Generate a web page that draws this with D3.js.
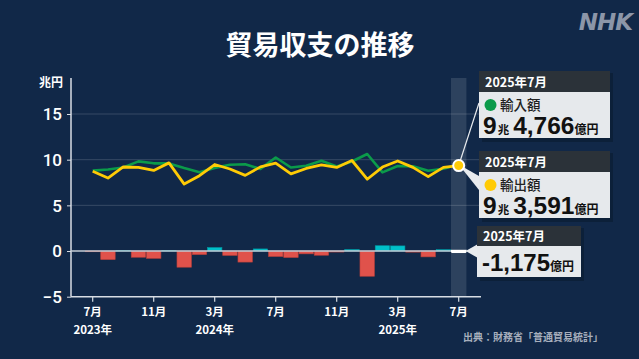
<!DOCTYPE html>
<html><head><meta charset="utf-8">
<script src="https://cdn.jsdelivr.net/npm/d3@7"></script>
<style>body{margin:0;background:#112848;}svg{display:block;}</style>
</head><body><svg id="c" width="639" height="359"></svg>
<script>
const months = ["2023-07","2023-08","2023-09","2023-10","2023-11","2023-12","2024-01","2024-02","2024-03","2024-04","2024-05","2024-06","2024-07","2024-08","2024-09","2024-10","2024-11","2024-12","2025-01","2025-02","2025-03","2025-04","2025-05","2025-06","2025-07"];
const exportsVal = [8.73,7.99,9.20,9.15,8.82,9.65,7.33,8.25,9.47,8.98,8.28,9.21,9.62,8.44,9.04,9.43,9.15,9.91,7.86,9.19,9.86,9.16,8.14,9.16,9.3591];
const importsVal = [8.80,8.93,9.14,9.81,9.60,9.59,9.09,8.63,9.10,9.44,9.50,8.99,10.24,9.14,9.33,9.89,9.26,9.80,10.62,8.61,9.30,9.28,8.78,9.01,9.4766];
const balanceVal = [-0.08,-0.94,0.06,-0.68,-0.80,0.06,-1.77,-0.39,0.38,-0.48,-1.21,0.23,-0.60,-0.71,-0.31,-0.46,-0.11,0.17,-2.76,0.58,0.56,-0.12,-0.64,0.15,-0.1175];
const xTickIdx = [0,4,8,12,16,20,24];
const xTickMonth = ["7月","11月","3月","7月","11月","3月","7月"];
const xTickYear = ["2023年","","2024年","","","2025年",""];
const yTicks = [-5,0,5,10,15];
const title = "貿易収支の推移";
const unitLabel = "兆円";
const lastLabel = "2025年7月";
const importBox = {name:"輸入額", big1:"9", unit1:"兆", big2:"4,766", unit2:"億円"};
const exportBox = {name:"輸出額", big1:"9", unit1:"兆", big2:"3,591", unit2:"億円"};
const balanceBox = {big:"-1,175", unit:"億円"};
const source = "出典：財務省「普通貿易統計」";

const FONT = "'Noto Sans CJK JP','Noto Sans',sans-serif";
const LFONT = "'Liberation Sans','Noto Sans CJK JP',sans-serif";
const NUMFONT = "Roboto,'Noto Sans',sans-serif";
const GREEN = "#0b9a4a", YELLOW = "#ffcb05", RED = "#e0524b", CYAN = "#00bfc9";

const svg = d3.select("#c");
svg.append("rect").attr("width",639).attr("height",359).attr("fill","#112848");

const x = d3.scaleLinear().domain([0, months.length-1]).range([92.7, 458.7]);
const y = d3.scaleLinear().domain([-5, 15]).range([296.7, 114]);
const step = x(1) - x(0);
const xLeft = 71, xRight = 481, yTop = 78;

// title
svg.append("text").attr("x",320).attr("y",55).attr("text-anchor","middle")
  .attr("fill","#fff").attr("font-family",FONT).attr("font-weight",700).attr("font-size",27).text(title);
// NHK logo
svg.append("text").attr("x",632).attr("y",30).attr("text-anchor","end")
  .attr("fill","#8c96a8").attr("font-family","'DejaVu Sans',sans-serif").attr("font-weight",700)
  .attr("font-style","italic").attr("font-size",23).attr("letter-spacing",-1).text("NHK");

// highlight band
svg.append("rect").attr("x",x(24)-7.7).attr("y",yTop).attr("width",15.4).attr("height",y(-5)-yTop)
  .attr("fill","#fff").attr("opacity",0.12);

// grid
svg.append("g").selectAll("line").data(yTicks.filter(d=>d>0)).join("line")
  .attr("x1",xLeft).attr("x2",xRight).attr("y1",d=>y(d)).attr("y2",d=>y(d))
  .attr("stroke","#fff").attr("stroke-opacity",0.16).attr("stroke-width",1);

// y axis
const yAxis = d3.axisLeft(y).tickValues(yTicks).tickSize(4).tickFormat(d3.format("d"));
const gy = svg.append("g").attr("transform",`translate(${xLeft},0)`).call(yAxis);
gy.select(".domain").remove();
gy.selectAll(".tick line").attr("stroke","#d8dde4");
gy.selectAll(".tick text").attr("fill","#fff").attr("font-family",NUMFONT).attr("font-size",17)
  .attr("font-weight",500).attr("x",-9).attr("dy","0.35em");
svg.append("line").attr("x1",xLeft).attr("x2",xLeft).attr("y1",yTop).attr("y2",y(-5))
  .attr("stroke","#d8dde4").attr("stroke-width",1.5);
svg.append("text").attr("x",63).attr("y",87).attr("text-anchor","end").attr("fill","#fff")
  .attr("font-family",FONT).attr("font-weight",700).attr("font-size",12).text(unitLabel);

// bars
svg.append("g").selectAll("rect").data(balanceVal).join("rect")
  .attr("x",(d,i)=>x(i)-step/2+0.4).attr("width",step-0.8)
  .attr("y",d=>Math.min(y(d),y(0))).attr("height",(d,i)=>Math.max(Math.abs(y(d)-y(0)), i===24?2:0))
  .attr("fill",(d,i)=> i===24 ? "#ffffff" : (d<0?RED:CYAN))
  .attr("stroke",(d,i)=> i===24 ? "none" : (d<0?"#b8403a":"#0098a2")).attr("stroke-width",0.6);

// zero line
svg.append("line").attr("x1",xLeft).attr("x2",x(24)-7.7).attr("y1",y(0)).attr("y2",y(0))
  .attr("stroke","#c4ccd6").attr("stroke-width",1.5);
svg.append("line").attr("x1",x(24)-7.7).attr("x2",x(24)+8).attr("y1",y(0)).attr("y2",y(0))
  .attr("stroke","#fff").attr("stroke-width",2.5);

// x axis
svg.append("line").attr("x1",xLeft).attr("x2",xRight).attr("y1",y(-5)).attr("y2",y(-5))
  .attr("stroke","#d8dde4").attr("stroke-width",1.5);
const gx = svg.append("g");
gx.selectAll("line").data(xTickIdx).join("line")
  .attr("x1",d=>x(d)).attr("x2",d=>x(d)).attr("y1",y(-5)).attr("y2",y(-5)+5)
  .attr("stroke","#d8dde4").attr("stroke-width",1.2);
gx.selectAll("text.m").data(xTickIdx).join("text").attr("class","m")
  .attr("x",d=>x(d)).attr("y",315.5).attr("text-anchor","middle").attr("fill","#fff")
  .attr("font-family",FONT).attr("font-weight",700).attr("font-size",11.5).text((d,i)=>xTickMonth[i]);
gx.selectAll("text.yr").data(xTickIdx).join("text").attr("class","yr")
  .attr("x",d=>x(d)).attr("y",333.5).attr("text-anchor","middle").attr("fill","#fff")
  .attr("font-family",FONT).attr("font-weight",700).attr("font-size",11.5).text((d,i)=>xTickYear[i]);

// lines
const line = d3.line().x((d,i)=>x(i)).y(d=>y(d));
svg.append("path").datum(importsVal).attr("d",line).attr("fill","none").attr("stroke",GREEN)
  .attr("stroke-width",2.6).attr("stroke-linejoin","round");
svg.append("path").datum(exportsVal).attr("d",line).attr("fill","none").attr("stroke",YELLOW)
  .attr("stroke-width",2.8).attr("stroke-linejoin","round");

// connectors
const px = x(24), py = y(exportsVal[24]);
svg.append("line").attr("x1",px).attr("y1",py).attr("x2",479).attr("y2",103)
  .attr("stroke","#e8ebee").attr("stroke-width",1.2);
svg.append("path").attr("d",`M${px},${py-1}L479,176L479,190Z`).attr("fill","#e8ebee");
svg.append("path").attr("d",`M${x(24)+7},${y(0)}L478,${y(0)-7}L478,${y(0)+7}Z`).attr("fill","#e8ebee");

svg.append("circle").attr("cx",px).attr("cy",py).attr("r",5.5).attr("fill",YELLOW)
  .attr("stroke","#fff").attr("stroke-width",2);

// boxes
function box(bx, by, w, hh, bh){
  const g = svg.append("g");
  g.append("rect").attr("x",bx+3).attr("y",by+2).attr("width",w).attr("height",hh+bh+2).attr("fill","#0a1a30").attr("opacity",0.6);
  g.append("rect").attr("x",bx).attr("y",by).attr("width",w).attr("height",hh).attr("fill","#2b3239");
  g.append("rect").attr("x",bx).attr("y",by+hh).attr("width",w).attr("height",bh).attr("fill","#e6e9ec");
  g.append("text").attr("x",bx+6).attr("y",by+hh-5).attr("fill","#fff").attr("font-family",FONT)
    .attr("font-weight",700).attr("font-size",12.5).text(lastLabel);
  return g;
}
function valueBox(by, info, color){
  const g = box(479, by, 131, 21, 46);
  g.append("circle").attr("cx",490.5).attr("cy",by+34).attr("r",6).attr("fill",color);
  g.append("text").attr("x",500).attr("y",by+38.5).attr("fill","#222").attr("font-family",LFONT)
    .attr("font-weight",500).attr("font-size",13.5).text(info.name);
  const t = g.append("text").attr("x",483).attr("y",by+62.5).attr("fill","#111").attr("font-family","'Liberation Sans',Arial,sans-serif").attr("font-weight",700);
  t.append("tspan").attr("font-size",24.5).text(info.big1);
  t.append("tspan").attr("font-size",11.5).attr("font-family",LFONT).attr("dx",1).text(info.unit1);
  t.append("tspan").attr("font-size",24.5).attr("dx",4).text(info.big2);
  t.append("tspan").attr("font-size",12).attr("font-family",LFONT).text(info.unit2);
}
valueBox(71, importBox, GREEN);
valueBox(151, exportBox, YELLOW);
const g3 = box(477, 226, 104, 20, 31);
const t3 = g3.append("text").attr("x",482).attr("y",271).attr("fill","#111").attr("font-family","'Liberation Sans',Arial,sans-serif").attr("font-weight",700);
t3.append("tspan").attr("font-size",24).text(balanceBox.big);
t3.append("tspan").attr("font-size",12).attr("font-family",LFONT).text(balanceBox.unit);

// source
svg.append("text").attr("x",603).attr("y",341).attr("text-anchor","end").attr("fill","#a7afbd")
  .attr("font-family",FONT).attr("font-weight",700).attr("font-size",10).text(source);
</script></body></html>
